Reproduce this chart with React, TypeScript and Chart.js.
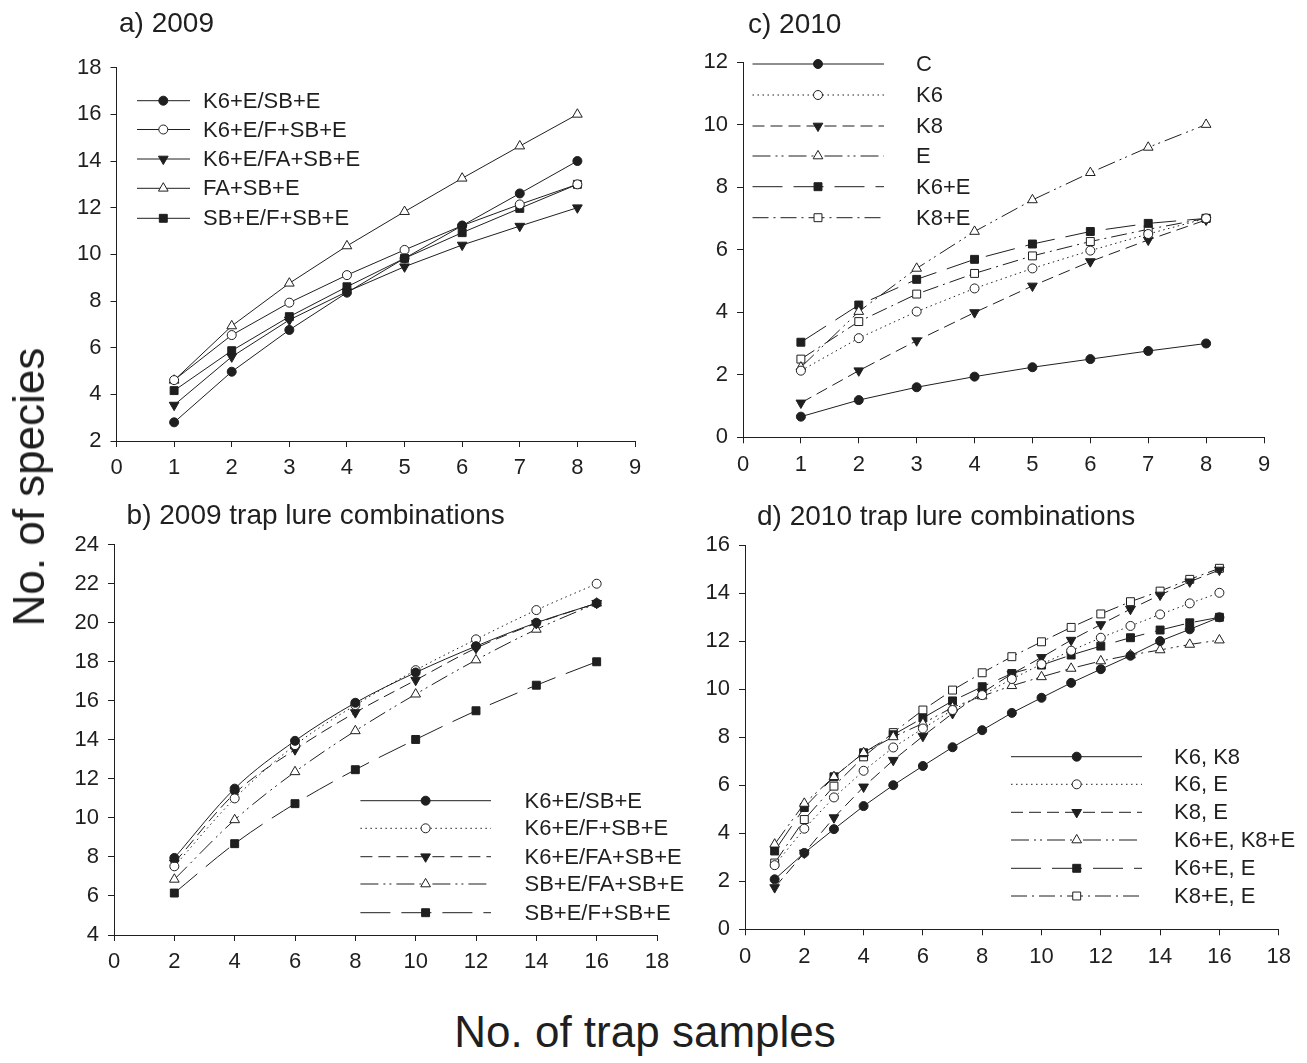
import React, { useEffect, useRef } from 'react';
import { Chart, registerables } from 'chart.js';

Chart.register(...registerables);

const FONT = '"Liberation Sans", Arial, Helvetica, sans-serif';
const INK = '#1f1f1f';

// ---------------- data ----------------
// a) 2009
const samplesA = [1, 2, 3, 4, 5, 6, 7, 8];
const a_K6E_SBE = [2.8, 4.97, 6.76, 8.36, 9.83, 11.23, 12.61, 14.0];
const a_K6E_FSBE = [4.61, 6.54, 7.93, 9.11, 10.19, 11.23, 12.14, 13.0];
const a_K6E_FASBE = [3.54, 5.61, 7.19, 8.4, 9.47, 10.4, 11.21, 12.0];
const a_FASBE = [4.6, 6.93, 8.76, 10.36, 11.83, 13.26, 14.64, 16.0];
const a_SBE_FSBE = [4.16, 5.87, 7.33, 8.61, 9.83, 10.93, 11.97, 13.0];

// b) 2009 trap lure combinations
const samplesB = [2, 4, 6, 8, 10, 12, 14, 16];
const b_K6E_SBE = [7.95, 11.5, 13.95, 15.9, 17.45, 18.8, 20.0, 21.0];
const b_K6E_FSBE = [7.52, 11.0, 13.73, 15.78, 17.57, 19.15, 20.65, 22.0];
const b_K6E_FASBE = [7.7, 11.25, 13.5, 15.4, 17.06, 18.7, 19.97, 21.0];
const b_SBE_FASBE = [6.85, 9.9, 12.36, 14.46, 16.34, 18.09, 19.66, 21.0];
const b_SBE_FSBE = [6.15, 8.68, 10.73, 12.47, 14.02, 15.49, 16.8, 18.0];

// c) 2010
const samplesC = [1, 2, 3, 4, 5, 6, 7, 8];
const c_C = [0.66, 1.19, 1.6, 1.94, 2.24, 2.5, 2.76, 3.0];
const c_K6 = [2.13, 3.17, 4.02, 4.76, 5.4, 5.97, 6.5, 7.0];
const c_K8 = [1.1, 2.13, 3.09, 3.99, 4.84, 5.62, 6.31, 6.95];
const c_E = [2.24, 4.02, 5.4, 6.58, 7.59, 8.46, 9.27, 10.0];
const c_K6E = [3.04, 4.23, 5.05, 5.69, 6.18, 6.58, 6.84, 7.0];
const c_K8E = [2.5, 3.7, 4.58, 5.24, 5.8, 6.26, 6.65, 7.0];

// d) 2010 trap lure combinations
const samplesD = [1, 2, 3, 4, 5, 6, 7, 8, 9, 10, 11, 12, 13, 14, 15, 16];
const d_K6_K8 = [2.08, 3.18, 4.17, 5.13, 6.0, 6.8, 7.58, 8.29, 9.01, 9.64, 10.26, 10.83, 11.39, 12.0, 12.49, 12.99];
const d_K6_E = [2.67, 4.19, 5.49, 6.6, 7.57, 8.36, 9.13, 9.75, 10.42, 11.04, 11.6, 12.14, 12.63, 13.11, 13.57, 14.01];
const d_K8_E = [1.74, 3.18, 4.65, 5.93, 7.04, 8.04, 8.99, 9.85, 10.63, 11.32, 12.04, 12.69, 13.33, 13.92, 14.47, 14.96];
const d_K6E_K8E = [3.54, 5.24, 6.35, 7.35, 8.01, 8.57, 9.24, 9.71, 10.14, 10.51, 10.86, 11.17, 11.42, 11.63, 11.86, 12.04];
const d_K6E_E = [3.26, 5.07, 6.35, 7.35, 8.1, 8.8, 9.51, 10.1, 10.65, 11.0, 11.42, 11.79, 12.14, 12.46, 12.76, 12.99];
const d_K8E_E = [2.76, 4.57, 5.96, 7.18, 8.19, 9.13, 9.96, 10.68, 11.35, 11.97, 12.57, 13.13, 13.64, 14.08, 14.57, 15.03];

// ---------------- styles ----------------
type Marker = 'circle' | 'triangle' | 'triangleDown' | 'rect';
type Series = { label: string; values: number[]; marker: Marker; filled: boolean; dash: number[] };

const SOLID: number[] = [];
const DOTTED = [1.5, 3.5];
const DASHED = [12, 6];
const DASH_DOT_DOT = [18, 5, 2, 4, 2, 5];
const LONG_DASH = [30, 11];
const DASH_DOT = [16, 5, 2, 5];

const RADIUS: Record<Marker, number> = { circle: 4.5, triangle: 5.6, triangleDown: 5.6, rect: 5.6 };

const seriesA: Series[] = [
  { label: 'K6+E/SB+E', values: a_K6E_SBE, marker: 'circle', filled: true, dash: SOLID },
  { label: 'K6+E/F+SB+E', values: a_K6E_FSBE, marker: 'circle', filled: false, dash: SOLID },
  { label: 'K6+E/FA+SB+E', values: a_K6E_FASBE, marker: 'triangleDown', filled: true, dash: SOLID },
  { label: 'FA+SB+E', values: a_FASBE, marker: 'triangle', filled: false, dash: SOLID },
  { label: 'SB+E/F+SB+E', values: a_SBE_FSBE, marker: 'rect', filled: true, dash: SOLID },
];

const seriesB: Series[] = [
  { label: 'K6+E/SB+E', values: b_K6E_SBE, marker: 'circle', filled: true, dash: SOLID },
  { label: 'K6+E/F+SB+E', values: b_K6E_FSBE, marker: 'circle', filled: false, dash: DOTTED },
  { label: 'K6+E/FA+SB+E', values: b_K6E_FASBE, marker: 'triangleDown', filled: true, dash: DASHED },
  { label: 'SB+E/FA+SB+E', values: b_SBE_FASBE, marker: 'triangle', filled: false, dash: DASH_DOT_DOT },
  { label: 'SB+E/F+SB+E', values: b_SBE_FSBE, marker: 'rect', filled: true, dash: LONG_DASH },
];

const seriesC: Series[] = [
  { label: 'C', values: c_C, marker: 'circle', filled: true, dash: SOLID },
  { label: 'K6', values: c_K6, marker: 'circle', filled: false, dash: DOTTED },
  { label: 'K8', values: c_K8, marker: 'triangleDown', filled: true, dash: DASHED },
  { label: 'E', values: c_E, marker: 'triangle', filled: false, dash: DASH_DOT_DOT },
  { label: 'K6+E', values: c_K6E, marker: 'rect', filled: true, dash: LONG_DASH },
  { label: 'K8+E', values: c_K8E, marker: 'rect', filled: false, dash: DASH_DOT },
];

const seriesD: Series[] = [
  { label: 'K6, K8', values: d_K6_K8, marker: 'circle', filled: true, dash: SOLID },
  { label: 'K6, E', values: d_K6_E, marker: 'circle', filled: false, dash: DOTTED },
  { label: 'K8, E', values: d_K8_E, marker: 'triangleDown', filled: true, dash: DASHED },
  { label: 'K6+E, K8+E', values: d_K6E_K8E, marker: 'triangle', filled: false, dash: DASH_DOT_DOT },
  { label: 'K6+E, E', values: d_K6E_E, marker: 'rect', filled: true, dash: LONG_DASH },
  { label: 'K8+E, E', values: d_K8E_E, marker: 'rect', filled: false, dash: DASH_DOT },
];

// ---------------- drawing helpers ----------------
function drawMarker(ctx: CanvasRenderingContext2D, m: Marker, x: number, y: number, filled: boolean) {
  const r = RADIUS[m];
  ctx.save();
  ctx.setLineDash([]);
  ctx.beginPath();
  if (m === 'circle') {
    ctx.arc(x, y, r, 0, Math.PI * 2);
  } else if (m === 'rect') {
    const h = r * Math.SQRT1_2;
    ctx.rect(x - h, y - h, 2 * h, 2 * h);
  } else {
    let rad = m === 'triangleDown' ? Math.PI : 0;
    for (let k = 0; k < 3; k++) {
      const px = x + Math.sin(rad) * r;
      const py = y - Math.cos(rad) * r;
      if (k === 0) ctx.moveTo(px, py);
      else ctx.lineTo(px, py);
      rad += (2 * Math.PI) / 3;
    }
    ctx.closePath();
  }
  ctx.fillStyle = filled ? INK : '#ffffff';
  ctx.fill();
  ctx.strokeStyle = INK;
  ctx.lineWidth = 1;
  ctx.stroke();
  ctx.restore();
}

type Area = { L: number; R: number; T: number; B: number };
type LegendCfg = { x1: number; x2: number; mx: number; tx: number; ys: number[] };

type PanelProps = {
  area: Area;
  xs: number[];
  xMax: number;
  xStep: number;
  yMin: number;
  yMax: number;
  series: Series[];
  legend: LegendCfg;
  smooth?: boolean;
};

function Panel({ area, xs, xMax, xStep, yMin, yMax, series, legend, smooth }: PanelProps) {
  const ref = useRef<HTMLCanvasElement | null>(null);
  const cx = Math.floor(area.L) - 85;
  const cy = Math.floor(area.T) - 35;
  const W = Math.ceil(area.R) + 75 - cx;
  const H = Math.ceil(area.B) + 55 - cy;
  const yAxisW = area.L - cx;
  const padTop = area.T - cy;
  const padRight = W - (area.R - cx);
  const xAxisH = H - (area.B - cy);

  useEffect(() => {
    const canvas = ref.current;
    if (!canvas) return;
    const tickFont = { family: FONT, size: 22 };
    const legendPlugin = {
      id: 'panelLegend',
      afterDraw(chart: any) {
        const ctx: CanvasRenderingContext2D = chart.ctx;
        series.forEach((s, i) => {
          const y = legend.ys[i] - cy;
          ctx.save();
          ctx.strokeStyle = INK;
          ctx.lineWidth = 1;
          ctx.setLineDash(s.dash);
          ctx.beginPath();
          ctx.moveTo(legend.x1 - cx, y);
          ctx.lineTo(legend.x2 - cx, y);
          ctx.stroke();
          ctx.restore();
          drawMarker(ctx, s.marker, legend.mx - cx, y, s.filled);
          ctx.save();
          ctx.fillStyle = INK;
          ctx.font = `22px ${FONT}`;
          ctx.textAlign = 'left';
          ctx.textBaseline = 'middle';
          ctx.fillText(s.label, legend.tx - cx, y + 1);
          ctx.restore();
        });
      },
    };

    const axisCommon = {
      type: 'linear' as const,
      border: { display: true, color: INK, width: 1 },
      grid: { display: true, drawOnChartArea: false, drawTicks: true, tickLength: 6, color: INK, lineWidth: 1 },
    };

    const chart = new Chart(canvas, {
      type: 'line',
      data: {
        datasets: series.map((s) => ({
          label: s.label,
          data: xs.map((x, i) => ({ x, y: s.values[i] })),
          borderColor: INK,
          borderWidth: 1,
          borderDash: s.dash,
          fill: false,
          tension: 0,
          cubicInterpolationMode: smooth ? 'monotone' : 'default',
          pointStyle: s.marker === 'triangleDown' ? 'triangle' : s.marker,
          pointRotation: s.marker === 'triangleDown' ? 180 : 0,
          pointRadius: RADIUS[s.marker],
          pointBackgroundColor: s.filled ? INK : '#ffffff',
          pointBorderColor: INK,
          pointBorderWidth: 1,
        })) as any,
      },
      options: {
        responsive: false,
        animation: false,
        devicePixelRatio: 1,
        events: [],
        layout: { padding: { left: 0, top: padTop, right: padRight, bottom: 0 } },
        plugins: { legend: { display: false }, tooltip: { enabled: false }, title: { display: false } },
        scales: {
          x: {
            ...axisCommon,
            min: 0,
            max: xMax,
            afterFit: (s: any) => {
              s.height = xAxisH;
            },
            ticks: { stepSize: xStep, autoSkip: false, maxRotation: 0, color: INK, font: tickFont, padding: 8 },
          },
          y: {
            ...axisCommon,
            min: yMin,
            max: yMax,
            afterFit: (s: any) => {
              s.width = yAxisW;
            },
            ticks: { stepSize: 2, autoSkip: false, color: INK, font: tickFont, padding: 9 },
          },
        } as any,
      },
      plugins: [legendPlugin],
    });
    return () => chart.destroy();
  }, []);

  return (
    <canvas
      ref={ref}
      width={W}
      height={H}
      style={{ position: 'absolute', left: cx, top: cy, width: W, height: H }}
    />
  );
}

function Label({ x, baseline, size, text }: { x: number; baseline: number; size: number; text: string }) {
  return (
    <div
      style={{
        position: 'absolute',
        left: x,
        top: baseline - 0.8465 * size,
        fontFamily: FONT,
        fontSize: size,
        lineHeight: `${size}px`,
        whiteSpace: 'nowrap',
        color: INK,
      }}
    >
      {text}
    </div>
  );
}

export default function App() {
  return (
    <div
      style={{
        position: 'absolute',
        left: 0,
        top: 0,
        width: 1307,
        height: 1063,
        background: '#ffffff',
        overflow: 'hidden',
      }}
    >
      <Panel
        area={{ L: 116.5, R: 635, T: 67.7, B: 441 }}
        xs={samplesA}
        xMax={9}
        xStep={1}
        yMin={2}
        yMax={18}
        series={seriesA}
        legend={{ x1: 137, x2: 190, mx: 163.3, tx: 203, ys: [100.7, 129.5, 159, 188.3, 218.3] }}
      />
      <Panel
        area={{ L: 743, R: 1264, T: 62, B: 437.3 }}
        xs={samplesC}
        xMax={9}
        xStep={1}
        yMin={0}
        yMax={12}
        series={seriesC}
        legend={{ x1: 752.5, x2: 884, mx: 818, tx: 916, ys: [64, 95, 126, 156, 186.7, 217.7] }}
      />
      <Panel
        area={{ L: 114, R: 657, T: 544.7, B: 935 }}
        xs={samplesB}
        xMax={18}
        xStep={2}
        yMin={4}
        yMax={24}
        series={seriesB}
        smooth
        legend={{ x1: 360.4, x2: 491, mx: 425.6, tx: 524.5, ys: [800.7, 828.3, 856.7, 884, 912.7] }}
      />
      <Panel
        area={{ L: 745, R: 1278.7, T: 545, B: 929.3 }}
        xs={samplesD}
        xMax={18}
        xStep={2}
        yMin={0}
        yMax={16}
        series={seriesD}
        legend={{ x1: 1011, x2: 1142, mx: 1076.7, tx: 1174, ys: [756.7, 784.3, 812.3, 840, 868.3, 896] }}
      />

      <Label x={119} baseline={33} size={28} text="a) 2009" />
      <Label x={748} baseline={34} size={28} text="c) 2010" />
      <Label x={126.6} baseline={525} size={28} text="b) 2009 trap lure combinations" />
      <Label x={757} baseline={526} size={28} text="d) 2010 trap lure combinations" />

      <div
        style={{
          position: 'absolute',
          left: 29,
          top: 487,
          fontFamily: FONT,
          fontSize: 44,
          lineHeight: '44px',
          whiteSpace: 'nowrap',
          color: INK,
          transform: 'translate(-50%, -50%) rotate(-90deg)',
        }}
      >
        No. of species
      </div>
      <div
        style={{
          position: 'absolute',
          left: 645,
          top: 1032,
          fontFamily: FONT,
          fontSize: 44,
          lineHeight: '44px',
          whiteSpace: 'nowrap',
          color: INK,
          transform: 'translate(-50%, -50%)',
        }}
      >
        No. of trap samples
      </div>
    </div>
  );
}
